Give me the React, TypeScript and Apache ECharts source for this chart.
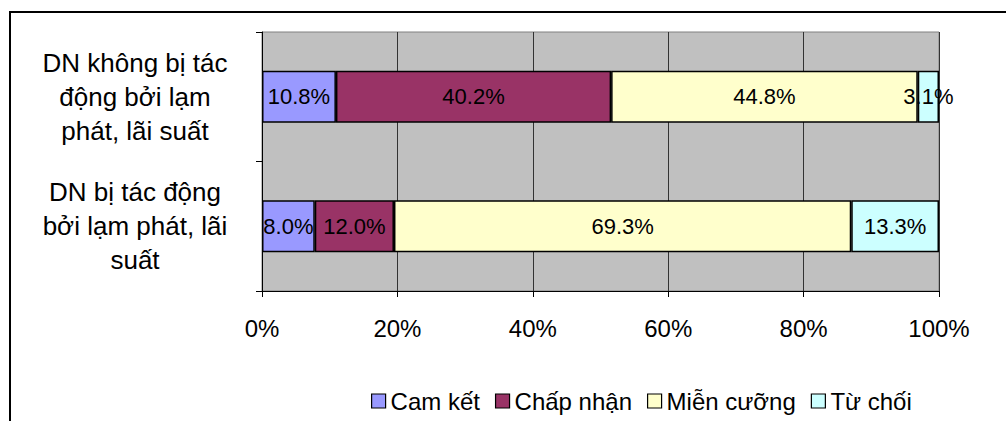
import React, { useEffect, useRef } from "react";
import * as echarts from "echarts";

const categories = [
  "DN không bị tác\nđộng bởi lạm\nphát, lãi suất",
  "DN bị tác động\nbởi lạm phát, lãi\nsuất",
];
const seriesNames = ["Cam kết", "Chấp nhận", "Miễn cưỡng", "Từ chối"];
const camKet = [10.8, 8.0];
const chapNhan = [40.2, 12.0];
const mienCuong = [44.8, 69.3];
const tuChoi = [3.1, 13.3];
const colors = ["#9999FF", "#993366", "#FFFFCC", "#CCFFFF"];
const xTicks = [0, 20, 40, 60, 80, 100];

const FONT = "'Liberation Sans', Arial, sans-serif";

export default function App() {
  const ref = useRef<HTMLDivElement>(null);
  useEffect(() => {
    if (!ref.current) return;
    const chart = echarts.init(ref.current, null, { renderer: "svg" });
    const raw = [camKet, chapNhan, mienCuong, tuChoi];
    const totals = categories.map((_, i) => raw.reduce((s, arr) => s + arr[i], 0));
    chart.setOption({
      animation: false,
      textStyle: { fontFamily: FONT },
      color: colors,
      grid: {
        left: 262,
        right: 67,
        top: 32,
        bottom: 130,
        show: true,
        backgroundColor: "#C0C0C0",
        borderColor: "#808080",
        borderWidth: 1,
      },
      legend: {
        top: 384,
        left: 366,
        icon: "rect",
        itemWidth: 14,
        itemHeight: 14,
        itemGap: 15,
        data: seriesNames,
        textStyle: { fontSize: 24, color: "#000", fontFamily: FONT },
        itemStyle: { borderColor: "#000", borderWidth: 1.2 },
      },
      xAxis: {
        type: "value",
        min: 0,
        max: 100,
        interval: 20,
        axisLine: { show: true, lineStyle: { color: "#000", width: 1 } },
        axisTick: { show: true, length: 6, lineStyle: { color: "#000" } },
        axisLabel: {
          formatter: (v: number) => (xTicks.includes(v) ? v + "%" : ""),
          fontSize: 24,
          color: "#000",
          margin: 25,
          fontFamily: FONT,
        },
        splitLine: { show: true, lineStyle: { color: "#333", width: 1 } },
      },
      yAxis: {
        type: "category",
        data: categories,
        inverse: true,
        axisLine: { show: true, lineStyle: { color: "#000", width: 1 } },
        axisTick: { show: true, length: 6, lineStyle: { color: "#000" } },
        axisLabel: {
          fontSize: 26,
          lineHeight: 34,
          color: "#000",
          align: "center",
          margin: 127,
          fontFamily: FONT,
          padding: [0, 0, 5, 0],
        },
      },
      series: seriesNames.map((name, si) => ({
        name,
        type: "bar",
        stack: "total",
        barWidth: "40%",
        data: raw[si].map((v, i) => (v / totals[i]) * 100),
        itemStyle: { color: colors[si], borderColor: "#000", borderWidth: 1.5 },
        label: {
          show: true,
          position: "inside",
          fontSize: 22,
          color: "#000",
          fontFamily: FONT,
          formatter: (p: any) => raw[si][p.dataIndex].toFixed(1) + "%",
        },
      })),
      graphic: [
        {
          type: "rect",
          shape: { x: 10, y: 12, width: 1010, height: 430 },
          style: { fill: "none", stroke: "#000", lineWidth: 2 },
          silent: true,
        },
      ],
    });
    return () => chart.dispose();
  }, []);
  return (
    <div
      ref={ref}
      style={{ position: "fixed", left: 0, top: 0, width: 1006, height: 421, background: "#fff" }}
    />
  );
}
